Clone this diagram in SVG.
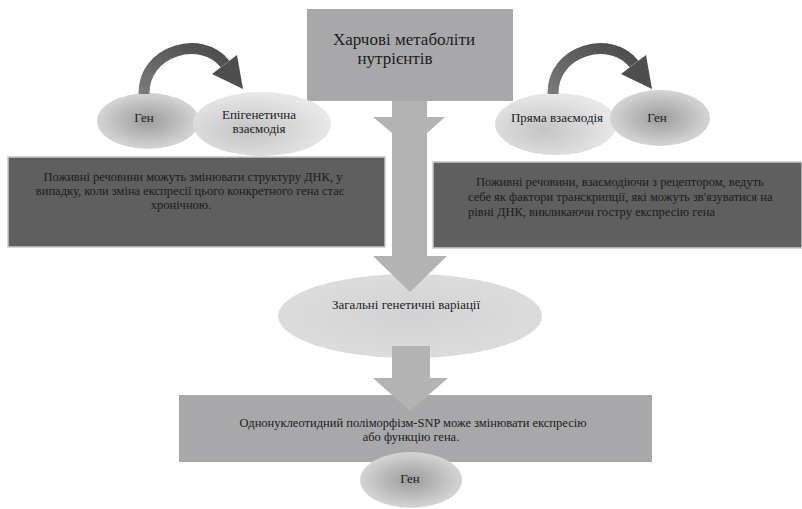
<svg xmlns="http://www.w3.org/2000/svg" width="802" height="509" viewBox="0 0 802 509">
  <defs>
    <radialGradient id="gGene" cx="50%" cy="50%" r="55%">
      <stop offset="0" stop-color="#9c9c9c"/>
      <stop offset="1" stop-color="#dadada"/>
    </radialGradient>
    <radialGradient id="gSoft" cx="40%" cy="60%" r="60%">
      <stop offset="0" stop-color="#c4c4c4"/>
      <stop offset="1" stop-color="#e8e8e8"/>
    </radialGradient>
    <radialGradient id="gFlat" cx="50%" cy="50%" r="60%">
      <stop offset="0" stop-color="#d2d2d2"/>
      <stop offset="1" stop-color="#dedede"/>
    </radialGradient>
    <linearGradient id="gCurve" x1="0" y1="1" x2="1" y2="0">
      <stop offset="0" stop-color="#7a7a7a"/>
      <stop offset="1" stop-color="#4a4a4a"/>
    </linearGradient>
    <style>
      text { font-family: "Liberation Serif", "DejaVu Serif", serif; fill: #1c1c1c; }
      .lbl { font-size: 13px; text-anchor: middle; }
      .note { font-size: 12.5px; }
      .mid { text-anchor: middle; }
      .dark { fill: #5f5f5f; stroke: #c9c9c9; stroke-width: 1.5; }
      .grey { fill: #a8a8ab; }
      .arrow { fill: #b3b3b3; }
    </style>
  </defs>

  <rect width="802" height="509" fill="#ffffff"/>

  <!-- Top source block -->
  <g id="nutrients">
    <rect class="grey" x="307" y="9" width="206" height="92"/>
    <text x="404" y="45" font-size="17" class="mid">Харчові метаболіти</text>
    <text x="395" y="64" font-size="17" class="mid">нутрієнтів</text>
  </g>

  <!-- Dark explanation panels -->
  <g id="epi-note">
    <rect class="dark" x="8" y="157" width="377" height="90"/>
    <text class="note mid" x="193" y="181">Поживні речовини можуть змінювати структуру ДНК, у</text>
    <text class="note mid" x="190" y="195">випадку, коли зміна експресії цього конкретного гена стає</text>
    <text class="note mid" x="181" y="209">хронічною.</text>
  </g>
  <g id="direct-note">
    <rect class="dark" x="433" y="162" width="369" height="86"/>
    <text class="note" x="476" y="186">Поживні речовини, взаємодіючи з рецептором, ведуть</text>
    <text class="note" x="468" y="201">себе як фактори транскрипції, які можуть зв'язуватися на</text>
    <text class="note" x="468" y="216">рівні ДНК, викликаючи гостру експресію гена</text>
  </g>

  <!-- Left pair of ellipses -->
  <g id="gene-left">
    <ellipse cx="148" cy="121" rx="51" ry="28" fill="url(#gGene)"/>
    <text class="lbl" x="144" y="122">Ген</text>
  </g>
  <g id="epigenetic">
    <ellipse cx="262" cy="124" rx="69" ry="32" fill="url(#gSoft)"/>
    <text class="lbl" x="259" y="119">Епігенетична</text>
    <text class="lbl" x="259" y="133">взаємодія</text>
  </g>

  <!-- Right pair of ellipses -->
  <g id="direct">
    <ellipse cx="556" cy="124" rx="61" ry="31" fill="url(#gSoft)"/>
    <text class="lbl" x="557" y="122">Пряма взаємодія</text>
  </g>
  <g id="gene-right">
    <ellipse cx="660" cy="118" rx="50" ry="28" fill="url(#gGene)"/>
    <text class="lbl" x="657" y="122">Ген</text>
  </g>

  <!-- Middle and bottom nodes -->
  <g id="variations">
    <ellipse cx="410" cy="316" rx="132" ry="42" fill="url(#gFlat)"/>
    <text class="lbl" x="406" y="309">Загальні генетичні варіації</text>
  </g>
  <g id="snp">
    <rect class="grey" x="179" y="395" width="473" height="67"/>
  </g>

  <!-- Connectors -->
  <g id="connectors">
    <!-- main downward arrow from the nutrients block -->
    <polygon class="arrow" points="392,101 427,101 427,117 445,117 427,133 427,256 447,256 410,292 373,256 392,256 392,133 373,117 392,117"/>
    <!-- arrow from variations to the SNP block -->
    <polygon class="arrow" points="392,346 430,346 430,378 448,378 410,411 373,378 392,378"/>
    <!-- curved arrows over the ellipse pairs -->
    <g id="curve-left">
      <path d="M144,94 C143,50 202,34 225,64" fill="none" stroke="url(#gCurve)" stroke-width="11"/>
      <polygon points="237,55 212,74 243,89" fill="#4e4e4e"/>
    </g>
    <g id="curve-right" transform="translate(409,0)">
      <path d="M144,94 C143,50 202,34 225,64" fill="none" stroke="url(#gCurve)" stroke-width="11"/>
      <polygon points="237,55 212,74 243,89" fill="#4e4e4e"/>
    </g>
  </g>

  <g id="snp-text">
    <text class="note mid" x="413" y="427">Однонуклеотидний поліморфізм-SNP може змінювати експресію</text>
    <text class="note mid" x="411" y="441">або функцію гена.</text>
  </g>

  <g id="gene-bottom">
    <ellipse cx="411" cy="480" rx="51" ry="28" fill="url(#gGene)"/>
    <text class="lbl" x="410" y="483">Ген</text>
  </g>
</svg>
